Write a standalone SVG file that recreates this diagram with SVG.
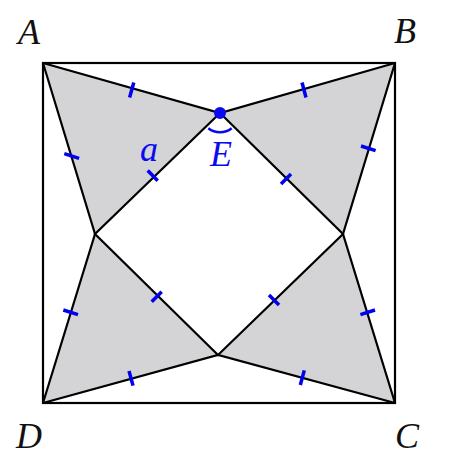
<svg xmlns="http://www.w3.org/2000/svg" width="450" height="469" viewBox="0 0 450 469">
<style>
.shade{fill:#d4d4d6;stroke:none}
.ln{stroke:#000;stroke-width:2.2;fill:none;stroke-linejoin:miter}
.tick{stroke:#0000f0;stroke-width:3.5;stroke-linecap:butt}
.lbl{font-family:"Liberation Serif","DejaVu Serif",serif;font-style:italic;font-size:36px;fill:#111;text-anchor:middle}
.blue{fill:#0a0af0}
</style>
<rect width="450" height="469" fill="#fff"/>
<g id="shading">
<polygon class="shade" points="43,63 220,113 95,234"/>
<polygon class="shade" points="395,63 220,113 343,234"/>
<polygon class="shade" points="43,403 95,234 218,355"/>
<polygon class="shade" points="395,403 343,234 218,355"/>
</g>
<g id="square">
<rect class="ln" x="43" y="63" width="352" height="340"/>
</g>
<g id="connectors">
<polyline class="ln" points="43,63 220,113 395,63"/>
<polyline class="ln" points="395,63 343,234 395,403"/>
<polyline class="ln" points="395,403 218,355 43,403"/>
<polyline class="ln" points="43,403 95,234 43,63"/>
<polygon class="ln" points="220,113 343,234 218,355 95,234"/>
</g>
<g id="ticks">
<line class="tick" x1="129.6" y1="97.5" x2="133.8" y2="82.5"/>
<line class="tick" x1="64.3" y1="153.7" x2="79.1" y2="158.3"/>
<line class="tick" x1="147.7" y1="170.6" x2="157.7" y2="180.8"/>
<line class="tick" x1="302" y1="82.5" x2="306" y2="97.5"/>
<line class="tick" x1="361" y1="146" x2="375.6" y2="150.6"/>
<line class="tick" x1="281" y1="184" x2="291" y2="174"/>
<line class="tick" x1="63.3" y1="310" x2="78" y2="314.6"/>
<line class="tick" x1="151.7" y1="301.7" x2="161.7" y2="291.7"/>
<line class="tick" x1="129" y1="371" x2="133" y2="385.6"/>
<line class="tick" x1="269" y1="295" x2="279" y2="305"/>
<line class="tick" x1="360.4" y1="314.6" x2="375" y2="310"/>
<line class="tick" x1="304.3" y1="370.4" x2="300.3" y2="385"/>
</g>
<g id="E">
<path d="M208.3,128.3 A19,19 0 0 0 231.7,128.3" fill="none" stroke="#0a0af0" stroke-width="2.5"/>
<circle class="blue" cx="220" cy="113" r="6"/>
<text class="lbl" x="221" y="166" style="fill:#0a0af0">E</text>
</g>
<g id="label-a">
<text class="lbl" x="149" y="161" style="fill:#0a0af0">a</text>
</g>
<g id="A"><text class="lbl" x="29" y="44">A</text></g>
<g id="B"><text class="lbl" x="405" y="43">B</text></g>
<g id="C"><text class="lbl" x="407" y="448">C</text></g>
<g id="D"><text class="lbl" x="29" y="448">D</text></g>
</svg>
